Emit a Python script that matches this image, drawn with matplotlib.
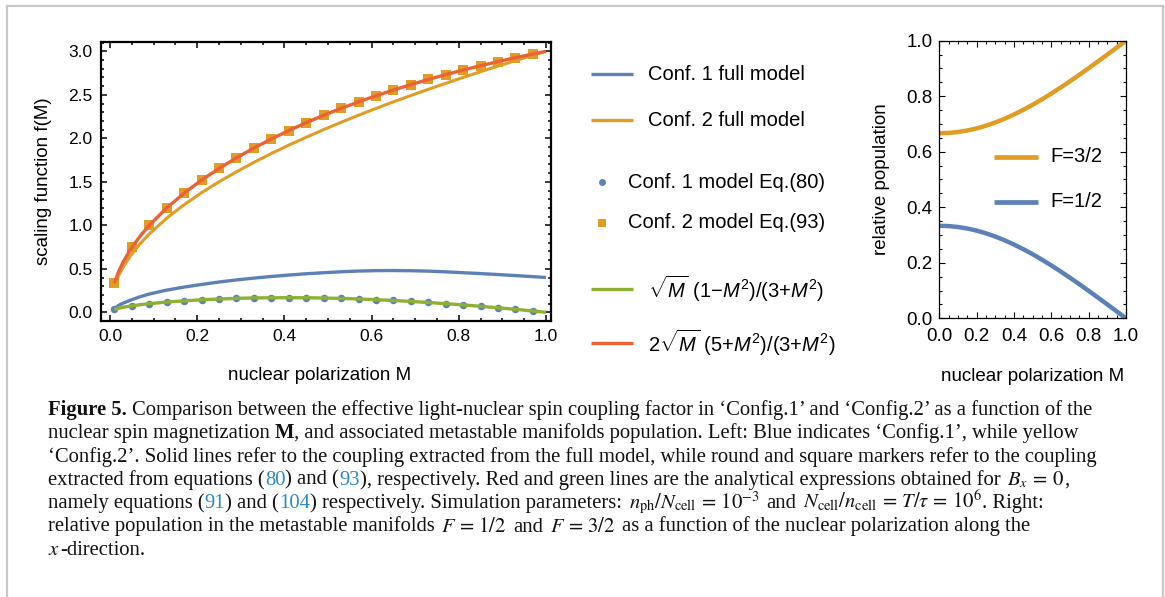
import matplotlib
matplotlib.use("Agg")
import matplotlib.pyplot as plt
from matplotlib.lines import Line2D
from matplotlib.ticker import MultipleLocator

plt.rcParams['font.family'] = ['Liberation Sans', 'DejaVu Sans']
plt.rcParams['mathtext.fontset'] = 'custom'
plt.rcParams['mathtext.rm'] = 'Liberation Sans'
plt.rcParams['mathtext.it'] = 'Liberation Sans:italic'
plt.rcParams['mathtext.bf'] = 'Liberation Sans:bold'

# ---------------- data ----------------
M_line = [0.01, 0.02, 0.03, 0.05, 0.07, 0.09, 0.13, 0.17, 0.21, 0.25, 0.29, 0.33,
          0.37, 0.41, 0.45, 0.49, 0.53, 0.57, 0.61, 0.65, 0.69, 0.73, 0.77, 0.81,
          0.85, 0.89, 0.93, 0.97, 1.0]
conf1_full = [0.04, 0.08, 0.105, 0.145, 0.18, 0.21, 0.255, 0.29, 0.32, 0.348, 0.372, 0.393,
              0.412, 0.428, 0.443, 0.455, 0.466, 0.474, 0.479, 0.48, 0.478, 0.473, 0.465, 0.455,
              0.445, 0.434, 0.422, 0.41, 0.40]
conf2_full = [0.30, 0.424, 0.52, 0.67, 0.794, 0.90, 1.082, 1.237, 1.375, 1.50, 1.615, 1.723,
              1.825, 1.921, 2.012, 2.10, 2.184, 2.265, 2.343, 2.419, 2.492, 2.563, 2.632, 2.70,
              2.766, 2.83, 2.893, 2.955, 3.00]
green_expr = [0.033, 0.047, 0.058, 0.074, 0.088, 0.099, 0.118, 0.132, 0.144, 0.153, 0.160, 0.165,
              0.167, 0.168, 0.167, 0.164, 0.160, 0.153, 0.145, 0.136, 0.125, 0.113, 0.099, 0.085,
              0.069, 0.052, 0.034, 0.015, 0.0]
red_expr = [0.333, 0.471, 0.577, 0.745, 0.881, 0.999, 1.199, 1.369, 1.519, 1.653, 1.775, 1.888,
            1.992, 2.089, 2.180, 2.264, 2.344, 2.418, 2.489, 2.555, 2.617, 2.676, 2.732, 2.785,
            2.835, 2.882, 2.927, 2.969, 3.000]

M_markers = [0.01, 0.05, 0.09, 0.13, 0.17, 0.21, 0.25, 0.29, 0.33, 0.37, 0.41, 0.45, 0.49,
             0.53, 0.57, 0.61, 0.65, 0.69, 0.73, 0.77, 0.81, 0.85, 0.89, 0.93, 0.97]
conf1_eq80 = [0.033, 0.074, 0.099, 0.118, 0.132, 0.144, 0.153, 0.160, 0.165, 0.167, 0.168, 0.167,
              0.164, 0.160, 0.153, 0.145, 0.136, 0.125, 0.113, 0.099, 0.085, 0.069, 0.052, 0.034, 0.015]
conf2_eq93 = [0.333, 0.745, 0.999, 1.199, 1.369, 1.519, 1.653, 1.775, 1.888, 1.992, 2.089, 2.180,
              2.264, 2.344, 2.418, 2.489, 2.555, 2.617, 2.676, 2.732, 2.785, 2.835, 2.882, 2.927, 2.969]

M_pop = [0.0, 0.05, 0.1, 0.15, 0.2, 0.25, 0.3, 0.35, 0.4, 0.45, 0.5, 0.55, 0.6, 0.65, 0.7,
         0.75, 0.8, 0.85, 0.9, 0.95, 1.0]
pop_F12 = [0.3333, 0.3322, 0.3289, 0.3234, 0.3158, 0.3061, 0.2945, 0.2810, 0.2658, 0.2490,
           0.2308, 0.2112, 0.1905, 0.1687, 0.1461, 0.1228, 0.0989, 0.0745, 0.0499, 0.0250, 0.0]
pop_F32 = [0.6667, 0.6678, 0.6711, 0.6766, 0.6842, 0.6939, 0.7055, 0.7190, 0.7342, 0.7510,
           0.7692, 0.7888, 0.8095, 0.8313, 0.8539, 0.8772, 0.9011, 0.9255, 0.9501, 0.9750, 1.0]

legend_left = ["Conf. 1 full model", "Conf. 2 full model", "Conf. 1 model Eq.(80)",
               "Conf. 2 model Eq.(93)", r"$\sqrt{M}$ (1$-$$M^2$)/(3+$M^2$)",
               r"2$\sqrt{M}$ (5+$M^2$)/(3+$M^2$)"]
legend_right = ["F=3/2", "F=1/2"]

BLUE, ORANGE, GREEN, RED = "#5E81B5", "#E19C24", "#8FB032", "#EB6235"
LINK = "#2b8ac6"

W, H = 1165, 597
fig = plt.figure(figsize=(W / 100, H / 100), dpi=100)


def fx(x):
    return x / W


def fy(y):
    return 1 - y / H


# ---------------- left panel ----------------
axL = fig.add_axes([fx(101), fy(321), 450 / W, 279 / H])
axL.plot(M_line, conf1_full, color=BLUE, lw=2.4, zorder=2, solid_capstyle='butt')
axL.plot(M_line, conf2_full, color=ORANGE, lw=2.2, zorder=2, solid_capstyle='butt')
axL.plot(M_markers, conf1_eq80, 'o', color=BLUE, ms=5.4, mew=0, zorder=3)
axL.plot(M_markers, conf2_eq93, 's', color=ORANGE, ms=6.8, mew=0, zorder=3)
axL.plot(M_line, green_expr, color=GREEN, lw=2.4, zorder=4, solid_capstyle='butt')
axL.plot(M_line, red_expr, color=RED, lw=2.4, zorder=4, solid_capstyle='butt')
axL.set_xlim(-0.0206, 1.0115)
axL.set_ylim(-0.10, 3.107)
axL.xaxis.set_minor_locator(MultipleLocator(0.05))
axL.yaxis.set_minor_locator(MultipleLocator(0.1))
axL.set_xticks([0.0, 0.2, 0.4, 0.6, 0.8, 1.0])
axL.set_xticklabels(["0.0", "0.2", "0.4", "0.6", "0.8", "1.0"])
axL.set_yticks([0.0, 0.5, 1.0, 1.5, 2.0, 2.5, 3.0])
axL.set_yticklabels(["0.0", "0.5", "1.0", "1.5", "2.0", "2.5", "3.0"])
axL.tick_params(which='both', direction='in', top=True, right=True, width=1.1, labelsize=12.5)
axL.tick_params(which='major', length=4.0)
axL.tick_params(which='minor', length=2.2)
axL.tick_params(axis='x', pad=6)
axL.tick_params(axis='y', pad=6)
for s in axL.spines.values():
    s.set_linewidth(1.6)
axL.set_xlabel("nuclear polarization M", fontsize=13.5)
axL.set_ylabel("scaling function f(M)", fontsize=13.5)
axL.xaxis.set_label_coords((320 - 101) / 450, (321 - 375) / 279)
axL.xaxis.label.set_va('center')
axL.yaxis.set_label_coords((44 - 101) / 450, 0.5)
axL.yaxis.label.set_va('center')

# ---------------- left legend (outside) ----------------
def leg_line(y, color, label):
    fig.add_artist(Line2D([fx(591), fx(633)], [fy(y), fy(y)], color=color, lw=2.4,
                          transform=fig.transFigure, solid_capstyle='butt'))
    fig.text(fx(648), fy(y), label, fontsize=14.5, va='center', ha='left')


def leg_marker(y, color, marker, ms, label):
    fig.add_artist(Line2D([fx(602)], [fy(y)], color=color, marker=marker, ms=ms, mew=0,
                          transform=fig.transFigure, linestyle='none'))
    fig.text(fx(628), fy(y), label, fontsize=14.5, va='center', ha='left')


leg_line(74, BLUE, legend_left[0])
leg_line(120, ORANGE, legend_left[1])
leg_marker(182, BLUE, 'o', 5.0, legend_left[2])
leg_marker(223, ORANGE, 's', 6.0, legend_left[3])
leg_line(289, GREEN, legend_left[4])
leg_line(343, RED, legend_left[5])

# ---------------- right panel ----------------
axR = fig.add_axes([fx(939.3), fy(318.3), 186.7 / W, 277.6 / H])
axR.plot(M_pop, pop_F32, color=ORANGE, lw=3.2, solid_capstyle='butt')
axR.plot(M_pop, pop_F12, color=BLUE, lw=3.2, solid_capstyle='butt')
axR.set_xlim(0, 1)
axR.set_ylim(0, 1)
axR.set_xticks([0.0, 0.2, 0.4, 0.6, 0.8, 1.0])
axR.set_xticklabels(["0.0", "0.2", "0.4", "0.6", "0.8", "1.0"])
axR.set_yticks([0.0, 0.2, 0.4, 0.6, 0.8, 1.0])
axR.set_yticklabels(["0.0", "0.2", "0.4", "0.6", "0.8", "1.0"])
axR.xaxis.set_minor_locator(MultipleLocator(0.05))
axR.yaxis.set_minor_locator(MultipleLocator(0.05))
axR.tick_params(which='both', direction='in', top=True, right=True, width=0.8, labelsize=13.5)
axR.tick_params(which='major', length=4.0)
axR.tick_params(which='minor', length=2.2)
axR.tick_params(axis='x', pad=7)
axR.tick_params(axis='y', pad=5)
for s in axR.spines.values():
    s.set_linewidth(0.9)
axR.set_xlabel("nuclear polarization M", fontsize=13.5)
axR.set_ylabel("relative population", fontsize=13.5)
axR.xaxis.set_label_coords((1033 - 939.3) / 186.7, (318.3 - 376.7) / 277.6)
axR.xaxis.label.set_va('center')
axR.yaxis.set_label_coords((881.7 - 939.3) / 186.7, 0.5)
axR.yaxis.label.set_va('center')

for y, color, lab in [(156.7, ORANGE, legend_right[0]), (201.7, BLUE, legend_right[1])]:
    fig.add_artist(Line2D([fx(994), fx(1038)], [fy(y), fy(y)], color=color, lw=3.4,
                          transform=fig.transFigure, solid_capstyle='butt'))
    fig.text(fx(1050), fy(y), lab, fontsize=14.5, va='center', ha='left')

# ---------------- border ----------------
for xs, ys in [([7, 1163], [6, 6]), ([7, 7], [6, 597]), ([1163, 1163], [6, 597])]:
    fig.add_artist(Line2D([fx(v) for v in xs], [fy(v) for v in ys], color="#c8c8c8",
                          lw=1.6, transform=fig.transFigure))

# ---------------- caption ----------------
caption = [
    [("Figure 5.", 'b', False), ("Comparison between the effective light-nuclear spin coupling factor in \u2018Config.1\u2019 and \u2018Config.2\u2019 as a function of the", 'n', True)],
    [("nuclear spin magnetization", 'n', False), ("M", 'b', True), (", and associated metastable manifolds population. Left: Blue indicates \u2018Config.1\u2019, while yellow", 'n', False)],
    [("\u2018Config.2\u2019. Solid lines refer to the coupling extracted from the full model, while round and square markers refer to the coupling", 'n', False)],
    [("extracted from equations (", 'n', False), ("80", 'c', False), (") and (", 'n', False), ("93", 'c', False),
     ("), respectively. Red and green lines are the analytical expressions obtained for", 'n', False),
     (r"$B_x\,=\,0$", 'm', True), (",", 'n', False)],
    [("namely equations (", 'n', False), ("91", 'c', False), (") and (", 'n', False), ("104", 'c', False),
     (") respectively. Simulation parameters:", 'n', False),
     (r"$n_{\mathrm{ph}}/N_{\mathrm{cell}}\,=\,10^{-3}$", 'm', True), ("and", 'n', True),
     (r"$N_{\mathrm{cell}}/n_{\mathrm{cell}}\,=\,T/\tau\,=\,10^{6}$", 'm', True), (". Right:", 'n', False)],
    [("relative population in the metastable manifolds", 'n', False), (r"$F\,=\,1/2$", 'm', True),
     ("and", 'n', True), (r"$F\,=\,3/2$", 'm', True),
     ("as a function of the nuclear polarization along the", 'n', True)],
    [(r"$x$", 'm', False), ("-direction.", 'n', False)],
]

renderer = fig.canvas.get_renderer()
MATH_PAD = 1.5


def make_text(x, y, txt, kind, size):
    kw = dict(fontsize=size, family=['Liberation Serif', 'DejaVu Serif'], math_fontfamily='stix',
              va='baseline', ha='left', color='#111111')
    if kind == 'b':
        kw['fontweight'] = 'bold'
    if kind == 'c':
        kw['color'] = LINK
    return fig.text(fx(x), fy(y), txt, **kw)


def seg_width(txt, kind, size):
    t = make_text(0, 0, txt, kind, size)
    w = t.get_window_extent(renderer).width
    t.remove()
    return w


def space_w(size):
    return seg_width("a a", 'n', size) - seg_width("aa", 'n', size)


def line_width(segs, size):
    sw = space_w(size)
    w = 0
    for txt, kind, sp in segs:
        if sp:
            w += sw
        w += seg_width(txt, kind, size)
    return w


ref = 12.0
target = 1092 - 48
cap_size = ref * target / line_width(caption[0], ref)

sw = space_w(cap_size)
for i, segs in enumerate(caption):
    y = 415 + i * 23.3
    x = 48
    for j, (txt, kind, sp) in enumerate(segs):
        if sp:
            x += sw
            if kind == 'm' or (j > 0 and segs[j - 1][1] == 'm'):
                x += MATH_PAD
        t = make_text(x, y, txt, kind, cap_size)
        x += t.get_window_extent(renderer).width

fig.savefig("out.png", dpi=100)
